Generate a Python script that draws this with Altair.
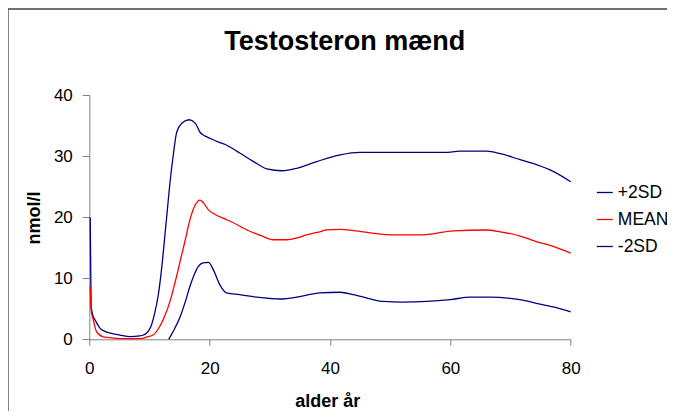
import altair as alt
import pandas as pd

title_text = "Testosteron mænd"
x_title = "alder år"
y_title = "nmol/l"
series_names = ["+2SD", "MEAN", "-2SD"]
series_colors = ["#000080", "#FF0000", "#000080"]
x_ticks = [0, 20, 40, 60, 80]
y_ticks = [0, 10, 20, 30, 40]

plus_age = [0.15, 0.3, 0.6, 1.0, 1.8, 2.6, 3.5, 5.1, 6.8, 8.4, 9.0, 9.5, 10.2, 10.8,
            11.5, 12.1, 12.6, 13.0, 13.4, 14.0, 14.5, 15.4, 16.6, 17.6, 18.4, 19.2,
            20.3, 21.5, 22.6, 25.0, 27.3, 29.5, 32.0, 34.5, 37.8, 41.7, 45.0, 50.0,
            55.0, 59.1, 61.6, 66.0, 68.3, 71.6, 74.3, 77.1, 80.0]
plus_val = [20.0, 5.5, 3.9, 3.1, 1.8, 1.3, 1.0, 0.7, 0.45, 0.55, 0.7, 1.0, 2.0, 4.0,
            7.5, 12.3, 17.4, 21.5, 25.6, 30.5, 33.8, 35.4, 35.95, 35.4, 33.9, 33.3,
            32.8, 32.3, 31.9, 30.5, 29.1, 27.9, 27.6, 28.0, 29.1, 30.2, 30.6, 30.6,
            30.6, 30.6, 30.8, 30.8, 30.4, 29.4, 28.6, 27.5, 25.8]

mean_age = [0.15, 0.3, 0.66, 1.2, 2.3, 3.0, 4.0, 6.0, 8.0, 9.0, 9.6, 10.6, 11.7, 12.4,
            13.5, 14.3, 15.1, 16.0, 16.7, 17.6, 18.4, 19.0, 19.8, 21.0, 22.8, 24.5,
            26.2, 28.5, 30.6, 32.8, 34.5, 36.1, 38.3, 39.4, 41.7, 43.9, 47.8, 50.0,
            55.0, 60.5, 66.0, 68.3, 71.6, 74.3, 77.1, 80.0]
mean_val = [8.6, 4.8, 3.2, 1.25, 0.4, 0.3, 0.2, 0.1, 0.1, 0.2, 0.4, 0.7, 2.1, 3.5,
            6.5, 9.5, 12.8, 16.5, 19.5, 22.0, 22.8, 22.3, 21.2, 20.4, 19.6, 18.8,
            17.9, 17.0, 16.3, 16.3, 16.6, 17.1, 17.6, 17.9, 18.0, 17.8, 17.3, 17.1,
            17.1, 17.75, 17.9, 17.6, 16.9, 16.0, 15.2, 14.1]

minus_age = [13.2, 14.0, 15.1, 16.0, 16.7, 17.4, 18.1, 18.9, 19.8, 20.6, 21.7, 22.8,
             25.0, 27.8, 31.7, 35.0, 38.3, 41.7, 43.9, 46.0, 48.9, 52.0, 56.1, 60.0,
             63.3, 66.5, 69.9, 72.0, 74.3, 77.1, 80.0]
minus_val = [0.0, 1.4, 3.7, 6.3, 8.6, 10.5, 11.9, 12.5, 12.6, 11.4, 8.9, 7.6,
             7.3, 6.9, 6.6, 7.0, 7.6, 7.7, 7.3, 6.8, 6.2, 6.1, 6.2, 6.5,
             6.9, 6.9, 6.7, 6.4, 5.9, 5.3, 4.5]

rows = []
for name, ages, vals in zip(series_names,
                            [plus_age, mean_age, minus_age],
                            [plus_val, mean_val, minus_val]):
    for a, v in zip(ages, vals):
        rows.append({"serie": name, "alder": a, "nmol": v})
df = pd.DataFrame(rows)

W = 481.4
H = 244.3
FONT = "Liberation Sans"

lines = alt.Chart(df).mark_line(strokeWidth=1.3, interpolate="monotone").encode(
    x=alt.X("alder:Q",
            scale=alt.Scale(domain=[0, 80], nice=False, zero=False),
            axis=alt.Axis(values=x_ticks, title=x_title, grid=False,
                          domainColor="#808080", tickColor="#808080", tickSize=6,
                          labelFont=FONT, labelFontSize=17, labelColor="black",
                          labelPadding=15, labelFlush=False,
                          titleFont=FONT, titleFontSize=18, titleFontWeight="bold",
                          titleColor="black", titleX=238, titleY=67,
                          titleBaseline="alphabetic", titleAlign="center")),
    y=alt.Y("nmol:Q",
            scale=alt.Scale(domain=[0, 40], nice=False),
            axis=alt.Axis(values=y_ticks, title=y_title, grid=False,
                          domainColor="#808080", tickColor="#808080", tickSize=7,
                          labelFont=FONT, labelFontSize=17, labelColor="black",
                          labelPadding=10, labelFlush=False,
                          titleFont=FONT, titleFontSize=18, titleFontWeight="bold",
                          titleColor="black", titleX=-50, titleY=122.5,
                          titleAngle=270, titleBaseline="alphabetic",
                          titleAlign="center")),
    color=alt.Color("serie:N",
                    scale=alt.Scale(domain=series_names, range=series_colors),
                    sort=series_names,
                    legend=alt.Legend(title=None, orient="none",
                                      legendX=506.5, legendY=88.5,
                                      symbolType="stroke", symbolSize=256,
                                      symbolStrokeWidth=1.3,
                                      labelFont=FONT, labelFontSize=17.5,
                                      labelColor="black", labelOffset=4,
                                      rowPadding=9, padding=0)),
)

frame_df = pd.DataFrame({"k": [0]})
frame_top = alt.Chart(frame_df).mark_rule(color="#404040", strokeWidth=1.3).encode(
    x=alt.value(-81.3), x2=alt.value(600), y=alt.value(-86))
frame_left = alt.Chart(frame_df).mark_rule(color="#404040", strokeWidth=1.3).encode(
    x=alt.value(-81.3), y=alt.value(-86), y2=alt.value(330))

chart = alt.layer(frame_top, frame_left, lines).properties(
    width=W, height=H,
    autosize=alt.AutoSizeParams(type="none"),
    padding={"left": 81.3, "top": 87, "right": 96.3, "bottom": 71.7},
    title=alt.TitleParams(title_text, font=FONT, fontSize=27, fontWeight="bold",
                          color="black", anchor="middle", frame="group",
                          offset=0, baseline="alphabetic", dx=14.7, dy=69),
).configure_view(strokeWidth=0)

chart.save("out.html", embed_options={"renderer": "svg", "actions": False})
